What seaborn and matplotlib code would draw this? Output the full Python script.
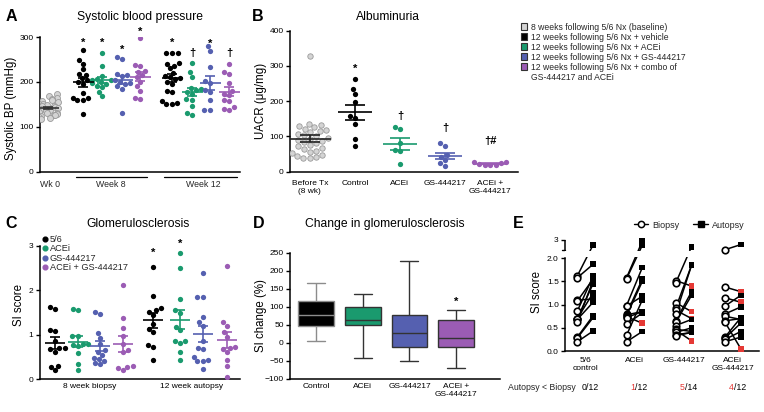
import numpy as np
import pandas as pd
import matplotlib
matplotlib.use("Agg")
import matplotlib.pyplot as plt
import seaborn as sns
from matplotlib.lines import Line2D
from matplotlib.patches import Patch

sns.set_theme(style="ticks")
plt.rcParams["font.family"] = ["Liberation Sans", "DejaVu Sans"]
plt.rcParams["axes.linewidth"] = 1.1

# ---------------- colours ----------------
BLACK = "#000000"
GREEN = "#1a9a6e"
BLUE = "#5560b0"
PURPLE = "#9b5cb4"
GREY_FILL = "#d4d4d4"
GREY_EDGE = "#9a9a9a"
RED = "#e53935"

# ---------------- data: A systolic BP (mmHg) ----------------
bp_wk0 = [172, 168, 165, 162, 160, 158, 155, 153, 150, 148, 146, 145, 143, 141,
          140, 138, 136, 135, 133, 131, 130, 128, 126, 125, 123, 121, 120, 118]
bp_w8_veh = [270, 248, 240, 228, 218, 216, 208, 203, 200, 195, 175, 165, 163, 160, 160, 128]
bp_w8_acei = [265, 235, 213, 207, 205, 203, 200, 198, 195, 190, 188, 178, 168]
bp_w8_gs = [255, 252, 218, 215, 213, 205, 200, 198, 195, 190, 185, 130]
bp_w8_combo = [298, 238, 235, 225, 222, 215, 210, 200, 190, 180, 165, 162]
bp_w12_veh = [264, 264, 264, 242, 240, 236, 230, 220, 214, 210, 208, 206, 200, 196,
              180, 178, 158, 152, 150, 150]
bp_w12_acei = [242, 221, 210, 187, 184, 182, 178, 173, 161, 160, 145, 130, 126]
bp_w12_gs = [279, 268, 232, 201, 197, 182, 178, 160, 138, 137]
bp_w12_combo = [239, 221, 218, 197, 180, 173, 170, 160, 158, 143, 139, 137]
A_marks = ["", "*", "*", "*", "*", "*", "†", "*", "†"]
A_mark_y = [0, 287, 287, 271, 312, 286, 264, 285, 264]

# ---------------- data: B albuminuria (UACR ug/mg) ----------------
B_cats = ["Before Tx\n(8 wk)", "Control", "ACEi", "GS-444217", "ACEi +\nGS-444217"]
uacr_before = [328, 136, 132, 130, 126, 122, 118, 115, 112, 108, 104, 100, 97, 94, 90,
               87, 84, 80, 76, 72, 68, 64, 60, 56, 52, 48, 44, 42, 40, 38]
uacr_control = [262, 234, 220, 197, 158, 151, 134, 93, 73]
uacr_acei = [128, 120, 80, 62, 58, 22]
uacr_gs = [80, 73, 47, 42, 33, 24, 16]
uacr_combo = [28, 27, 24, 22, 20, 20, 18]
B_marks = ["", "*", "†", "†", "†#"]
B_mark_y = [0, 293, 158, 123, 86]

# ---------------- data: C glomerulosclerosis (SI score) ----------------
C_legend = ["5/6", "ACEi", "GS-444217", "ACEi + GS-444217"]
C_xlabels = ["8 week biopsy", "12 week autopsy"]
si_b_56 = [1.62, 1.58, 1.10, 1.08, 0.86, 0.70, 0.70, 0.68, 0.62, 0.30, 0.28, 0.20]
si_b_acei = [1.58, 1.56, 0.98, 0.97, 0.80, 0.78, 0.76, 0.74, 0.58, 0.34, 0.20]
si_b_gs = [1.52, 1.47, 1.04, 0.93, 0.80, 0.65, 0.62, 0.55, 0.47, 0.45, 0.40, 0.35, 0.33]
si_b_combo = [2.12, 1.38, 1.15, 0.98, 0.80, 0.65, 0.62, 0.30, 0.28, 0.25, 0.20]
si_a_56 = [2.53, 1.87, 1.61, 1.55, 1.52, 1.45, 1.25, 1.12, 1.05, 0.76, 0.72, 0.43]
si_a_acei = [2.85, 2.50, 1.80, 1.55, 1.50, 1.18, 1.10, 0.85, 0.85, 0.82, 0.60, 0.42]
si_a_gs = [2.38, 1.85, 1.85, 1.40, 1.28, 1.20, 0.85, 0.70, 0.68, 0.50, 0.42, 0.40, 0.40, 0.22]
si_a_combo = [2.56, 1.28, 1.20, 1.05, 0.95, 0.72, 0.70, 0.68, 0.60, 0.42, 0.30, 0.05]
C_marks = ["", "", "", "", "*", "*", "", ""]
C_mark_y = [0, 0, 0, 0, 2.84, 3.04, 0, 0]

# ---------------- data: D change in SI (%), box stats min,q1,median,q3,max ----------------
D_cats = ["Control", "ACEi", "GS-444217", "ACEi +\nGS-444217"]
sic_control = [5, 47, 77, 115, 167]
sic_acei = [-43, 50, 63, 100, 135]
sic_gs = [-52, -12, 28, 78, 227]
sic_combo = [-70, -12, 12, 63, 92]
D_marks = ["", "", "", "*"]
D_mark_y = [0, 0, 0, 114]

# ---------------- data: E paired biopsy -> autopsy ----------------
E_cats = ["5/6\ncontrol", "ACEi", "GS-444217", "ACEi\nGS-444217"]
e_bio_56 = [1.62, 1.58, 1.10, 1.08, 0.86, 0.70, 0.70, 0.68, 0.62, 0.30, 0.28, 0.20]
e_aut_56 = [2.53, 1.87, 1.12, 1.55, 1.61, 1.25, 1.45, 1.05, 1.52, 0.76, 0.72, 0.43]
e_bio_acei = [1.58, 1.56, 0.98, 0.97, 0.80, 0.78, 0.76, 0.74, 0.72, 0.58, 0.34, 0.20]
e_aut_acei = [2.85, 2.50, 1.80, 1.18, 1.55, 0.85, 1.50, 0.60, 0.85, 0.82, 1.10, 0.42]
e_bio_gs = [1.52, 1.47, 1.04, 0.93, 0.88, 0.80, 0.65, 0.62, 0.55, 0.47, 0.45, 0.40, 0.35, 0.33]
e_aut_gs = [1.40, 2.38, 0.85, 1.85, 0.70, 1.85, 1.28, 1.20, 0.68, 0.42, 0.22, 0.50, 0.40, 0.40]
e_bio_combo = [2.12, 1.38, 1.15, 0.97, 0.80, 0.75, 0.65, 0.62, 0.30, 0.28, 0.25, 0.20]
e_aut_combo = [2.56, 1.28, 1.05, 1.20, 0.95, 0.68, 0.70, 0.05, 0.72, 0.60, 0.42, 0.30]
E_fraction_total = ["12", "12", "14", "12"]

# ---------------- figure ----------------
W, H = 764, 412
fig = plt.figure(figsize=(W / 100, H / 100), dpi=100)


def fx(x):
    return x / W


def fy(y):
    return 1 - y / H


def add_ax(l, t, r, b):
    return fig.add_axes([l / W, 1 - b / H, (r - l) / W, (b - t) / H])


def style(ax):
    sns.despine(ax=ax)
    ax.tick_params(axis="both", labelsize=6, width=1.0, length=3, pad=1.5, color="black",
                   labelcolor="black")
    for s in ax.spines.values():
        s.set_linewidth(1.1)
        s.set_color("black")


def mean_sem(ax, xc, vals, col, half_mean, half_cap, lw=1.2):
    m = np.mean(vals)
    se = np.std(vals, ddof=1) / np.sqrt(len(vals))
    ax.hlines(m, xc - half_mean, xc + half_mean, color=col, lw=lw, zorder=5)
    ax.vlines(xc, m - se, m + se, color=col, lw=lw, zorder=5)
    ax.hlines([m - se, m + se], xc - half_cap, xc + half_cap, color=col, lw=lw, zorder=5)


def mark(ax, x, y, s):
    if s:
        ax.text(x, y, s, ha="center", va="center", fontsize=8, fontweight="bold",
                color="black", clip_on=False, zorder=6)


letter_kw = dict(fontsize=11.5, fontweight="bold", ha="center", va="center", color="black")
title_kw = dict(fontsize=8.7, ha="center", va="center", color="black")

# ===================== A =====================
axA = add_ax(40, 37, 240, 171.5)
UA = 25.0
A_groups = [bp_wk0, bp_w8_veh, bp_w8_acei, bp_w8_gs, bp_w8_combo,
            bp_w12_veh, bp_w12_acei, bp_w12_gs, bp_w12_combo]
A_colors = [GREY_FILL, BLACK, GREEN, BLUE, PURPLE, BLACK, GREEN, BLUE, PURPLE]
A_pos = [48, 83, 102, 122, 140, 172, 192, 210, 229]
axA.set_xlim(40 / UA, 240 / UA)
axA.set_ylim(0, 300)
np.random.seed(4)
sns.stripplot(x=np.full(len(bp_wk0), A_pos[0] / UA), y=bp_wk0, native_scale=True, orient="x",
              jitter=0.40, color=GREY_FILL, edgecolor=GREY_EDGE, linewidth=0.6, size=4.3, ax=axA)
for vals, xp, col in zip(A_groups[1:], A_pos[1:], A_colors[1:]):
    sns.swarmplot(x=np.full(len(vals), xp / UA), y=vals, native_scale=True, orient="x",
                  color=col, size=3.8, linewidth=0, ax=axA)
for i, (vals, xp, col) in enumerate(zip(A_groups, A_pos, A_colors)):
    mc = "#333333" if i == 0 else col
    mean_sem(axA, xp / UA, vals, mc, 10.5 / UA, 5 / UA)
    mark(axA, xp / UA, A_mark_y[i], A_marks[i])
axA.set_xlim(40 / UA, 240 / UA)
axA.set_ylim(0, 300)
axA.set_yticks([0, 100, 200, 300])
axA.set_xticks([])
style(axA)
axA.set_ylabel("Systolic BP (mmHg)", fontsize=8.3, color="black")
axA.yaxis.set_label_coords(-0.115, 0.47)
fig.text(fx(50), fy(184.5), "Wk 0", ha="center", va="center", fontsize=6.3)
fig.text(fx(111), fy(184.5), "Week 8", ha="center", va="center", fontsize=6.3)
fig.text(fx(203), fy(184.5), "Week 12", ha="center", va="center", fontsize=6.3)
fig.add_artist(Line2D([fx(76), fx(147)], [fy(176.5)] * 2, color="black", lw=0.9))
fig.add_artist(Line2D([fx(164), fx(237)], [fy(176.5)] * 2, color="black", lw=0.9))
fig.text(fx(11), fy(16.5), "A", **letter_kw)
fig.text(fx(140), fy(17), "Systolic blood pressure", **title_kw)

# ===================== B =====================
axB = add_ax(290, 30.7, 518, 171.7)
B_groups = [uacr_before, uacr_control, uacr_acei, uacr_gs, uacr_combo]
B_colors = [GREY_FILL, BLACK, GREEN, BLUE, PURPLE]
axB.set_xlim(-0.44, 4.62)
axB.set_ylim(0, 400)
for i, (vals, col) in enumerate(zip(B_groups, B_colors)):
    if i == 0:
        sns.swarmplot(x=np.full(len(vals), float(i)), y=vals, native_scale=True, orient="x",
                      color=GREY_FILL, edgecolor=GREY_EDGE, linewidth=0.6, size=3.9, ax=axB)
    else:
        sns.swarmplot(x=np.full(len(vals), float(i)), y=vals, native_scale=True, orient="x",
                      color=col, size=3.8, linewidth=0, ax=axB)
for i, (vals, col) in enumerate(zip(B_groups, B_colors)):
    mc = "#222222" if i == 0 else col
    hm = 0.47 if i == 0 else 0.37
    mean_sem(axB, i, vals, mc, hm, 0.22)
    mark(axB, i, B_mark_y[i], B_marks[i])
axB.set_xlim(-0.44, 4.62)
axB.set_ylim(0, 400)
axB.set_yticks([0, 100, 200, 300, 400])
axB.set_xticks(range(5))
axB.set_xticklabels(B_cats)
style(axB)
axB.tick_params(axis="x", length=0, pad=6)
axB.set_ylabel("UACR (μg/mg)", fontsize=8.3, color="black")
axB.yaxis.set_label_coords(-0.10, 0.5)
fig.text(fx(258), fy(16.5), "B", **letter_kw)
fig.text(fx(388), fy(17), "Albuminuria", **title_kw)

# legend of B
leg_labels = ["8 weeks following 5/6 Nx (baseline)", "12 weeks following 5/6 Nx + vehicle",
              "12 weeks following 5/6 Nx + ACEi", "12 weeks following 5/6 Nx + GS-444217",
              "12 weeks following 5/6 Nx + combo of", "GS-444217 and ACEi"]
leg_handles = [Patch(facecolor=c, edgecolor="#333333", linewidth=0.8)
               for c in [GREY_FILL, BLACK, GREEN, BLUE, PURPLE]]
leg_handles.append(Patch(facecolor="none", edgecolor="none"))
fig.legend(leg_handles, leg_labels, loc="upper left", bbox_to_anchor=(fx(521), fy(22.5)),
           frameon=False, fontsize=6.2, handlelength=0.75, handleheight=0.75,
           handletextpad=0.4, labelspacing=0.12, borderpad=0, borderaxespad=0)

# ===================== C =====================
axC = add_ax(39.5, 246, 240, 379)
UC = 24.0
C_groups = [si_b_56, si_b_acei, si_b_gs, si_b_combo, si_a_56, si_a_acei, si_a_gs, si_a_combo]
C_colors = [BLACK, GREEN, BLUE, PURPLE] * 2
C_pos = [55, 78, 100, 123, 153, 180, 203, 227]
axC.set_xlim(39.5 / UC, 240 / UC)
axC.set_ylim(0, 3)
for vals, xp, col in zip(C_groups, C_pos, C_colors):
    sns.swarmplot(x=np.full(len(vals), xp / UC), y=vals, native_scale=True, orient="x",
                  color=col, size=3.8, linewidth=0, ax=axC)
for i, (vals, xp, col) in enumerate(zip(C_groups, C_pos, C_colors)):
    mean_sem(axC, xp / UC, vals, col, 10 / UC, 5 / UC)
    mark(axC, xp / UC, C_mark_y[i], C_marks[i])
axC.set_xlim(39.5 / UC, 240 / UC)
axC.set_ylim(0, 3)
axC.set_yticks([0, 1, 2, 3])
axC.set_xticks([90 / UC, 192 / UC])
axC.set_xticklabels(C_xlabels)
style(axC)
axC.tick_params(axis="x", length=0, pad=3)
axC.set_ylabel("SI score", fontsize=8.3, color="black")
axC.yaxis.set_label_coords(-0.072, 0.556)
c_handles = [Line2D([], [], ls="", marker="o", ms=3.4, color=c, mec=c)
             for c in [BLACK, GREEN, BLUE, PURPLE]]
fig.legend(c_handles, C_legend, loc="upper left", bbox_to_anchor=(fx(43), fy(235)),
           frameon=False, fontsize=6.6, handlelength=0.5, handletextpad=0.25,
           labelspacing=0.05, borderpad=0, borderaxespad=0)
fig.text(fx(11), fy(224), "C", **letter_kw)
fig.text(fx(138), fy(224), "Glomerulosclerosis", **title_kw)

# ===================== D =====================
axD = add_ax(290, 252.7, 500, 378.7)
D_stats = [sic_control, sic_acei, sic_gs, sic_combo]
D_colors = [BLACK, GREEN, BLUE, PURPLE]
dfD = pd.DataFrame({"grp": np.repeat(D_cats, 5), "val": np.concatenate(D_stats)})
sns.boxplot(data=dfD, x="grp", y="val", hue="grp", order=D_cats, hue_order=D_cats,
            palette=D_colors, whis=(0, 100), width=0.77, linecolor="#333333", linewidth=1.0,
            saturation=1, legend=False, ax=axD)
for ln in axD.lines:
    xd = np.asarray(ln.get_xdata(), dtype=float)
    if xd.size and np.all(np.abs(xd) < 0.5):
        ln.set_color("#8c8c8c")
for p in axD.patches:
    ext = p.get_path().get_extents()
    if abs((ext.x0 + ext.x1) / 2) < 0.5:
        p.set_edgecolor("#8c8c8c")
for i in range(4):
    mark(axD, i, D_mark_y[i], D_marks[i])
axD.set_xlim(-0.56, 3.94)
axD.set_ylim(-100, 250)
axD.set_yticks([-100, -50, 0, 50, 100, 150, 200, 250])
axD.set_xlabel("")
style(axD)
axD.tick_params(axis="x", length=0, pad=3)
axD.set_ylabel("SI change (%)", fontsize=8.3, color="black")
axD.yaxis.set_label_coords(-0.11, 0.5)
fig.text(fx(259), fy(224), "D", **letter_kw)
fig.text(fx(385), fy(224), "Change in glomerulosclerosis", **title_kw)

# ===================== E =====================
axE = add_ax(565, 239.5, 759, 351)
TOP = 2.405


def brk(v):
    v = np.asarray(v, dtype=float)
    return np.where(v <= 2.1, v, 2.18 + (v - 2.1) * 0.25)


E_bio = [e_bio_56, e_bio_acei, e_bio_gs, e_bio_combo]
E_aut = [e_aut_56, e_aut_acei, e_aut_gs, e_aut_combo]
rows = []
pid = 0
for i, (b, a) in enumerate(zip(E_bio, E_aut)):
    for bv, av in zip(b, a):
        rows.append(dict(pid=pid, x=i - 0.16, y=float(brk(bv)), kind="Biopsy", red=False))
        rows.append(dict(pid=pid, x=i + 0.16, y=float(brk(av)), kind="Autopsy", red=av < bv))
        pid += 1
dfE = pd.DataFrame(rows)
sns.lineplot(data=dfE, x="x", y="y", units="pid", estimator=None, color="black", lw=1.1,
             ax=axE, zorder=2, legend=False)
axE.axhspan(2.03, 2.165, color="white", zorder=3, lw=0)
bio = dfE[dfE.kind == "Biopsy"]
aut = dfE[dfE.kind == "Autopsy"]
axE.scatter(bio.x, bio.y, marker="o", s=22, facecolor="white", edgecolor="black",
            linewidths=1.2, zorder=4, clip_on=False)
axE.scatter(aut.x, aut.y, marker="s", s=17, c=[RED if r else "black" for r in aut.red],
            linewidths=0, zorder=4, clip_on=False)
axE.set_xlim(-0.41, 3.53)
axE.set_ylim(0, TOP)
axE.set_yticks([0, 0.5, 1.0, 1.5, 2.0, TOP])
axE.set_yticklabels(["0.0", "0.5", "1.0", "1.5", "2.0", "3"])
axE.set_xticks(range(4))
axE.set_xticklabels(E_cats)
axE.set_xlabel("")
style(axE)
axE.tick_params(axis="x", length=0, pad=4)
axE.spines["left"].set_bounds(0, 2.0)
ytr = axE.get_yaxis_transform()
axE.plot([0, 0], [2.18, TOP], transform=ytr, color="black", lw=1.1, clip_on=False,
         solid_capstyle="butt")
axE.plot([-0.0155, 0], [2.18, 2.18], transform=ytr, color="black", lw=1.0, clip_on=False)
axE.set_ylabel("SI score", fontsize=8.3, color="black")
axE.yaxis.set_label_coords(-0.113, 0.53)
e_handles = [Line2D([], [], color="black", lw=1.0, marker="o", ms=4.5, mfc="white",
                    mec="black", mew=1.1),
             Line2D([], [], color="black", lw=1.0, marker="s", ms=4, mfc="black", mec="black")]
fig.legend(e_handles, ["Biopsy", "Autopsy"], ncol=2, loc="center",
           bbox_to_anchor=(fx(689), fy(225)), frameon=False, fontsize=6.5,
           handlelength=1.6, handletextpad=0.4, columnspacing=1.6, borderpad=0,
           borderaxespad=0)
fig.text(fx(576), fy(388), "Autopsy < Biopsy", ha="right", va="center", fontsize=6.3)
xtr = axE.get_xaxis_transform()
ty = (351 - 388) / (351 - 239.5)
for i in range(4):
    n_red = int(sum(1 for bv, av in zip(E_bio[i], E_aut[i]) if av < bv))
    axE.text(i + 0.02, ty, str(n_red), transform=xtr, ha="right", va="center", fontsize=6.3,
             color=(RED if n_red > 0 else "black"), clip_on=False)
    axE.text(i + 0.02, ty, "/" + E_fraction_total[i], transform=xtr, ha="left", va="center",
             fontsize=6.3, color="black", clip_on=False)
fig.text(fx(518), fy(224), "E", **letter_kw)

fig.savefig("out.png", dpi=100)
